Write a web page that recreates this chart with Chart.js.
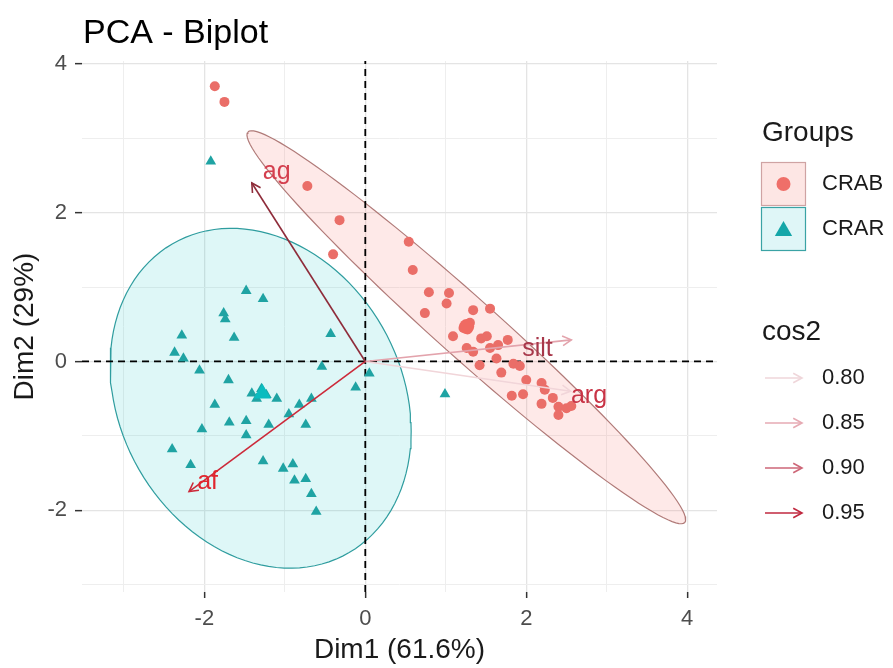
<!DOCTYPE html>
<html>
<head>
<meta charset="utf-8">
<title>PCA - Biplot</title>
<script src="https://cdn.jsdelivr.net/npm/chart.js@4.4.0/dist/chart.umd.min.js"></script>
<style>
	html, body { margin: 0; padding: 0; background: #fff; }
</style>
</head>
<body>
<canvas id="graficoBiplot" width="893" height="668"></canvas>
<script>
// individuos por grupo (Dim1, Dim2)
var crabX = [-1.87, -1.75, -0.72, -0.32, -0.40, 0.54, 0.59, 0.79, 0.74, 1.04, 1.01, 1.34, 1.55, 1.22, 1.30, 1.27,
	1.09, 1.44, 1.51, 1.77, 1.26, 1.34, 1.55, 1.65, 1.63, 1.42, 1.69, 1.84, 1.92, 2.00, 2.19, 2.23, 1.82, 1.96,
	2.33, 2.19, 2.40, 2.50, 2.40, 2.56];
var crabY = [3.70, 3.49, 2.36, 1.90, 1.44, 1.61, 1.23, 0.93, 0.65, 0.92, 0.78, 0.69, 0.71, 0.45, 0.52, 0.43,
	0.34, 0.31, 0.34, 0.29, 0.18, 0.13, 0.18, 0.22, 0.04, -0.05, -0.15, -0.03, -0.06, -0.25, -0.29, -0.38, -0.46, -0.44,
	-0.49, -0.57, -0.61, -0.63, -0.72, -0.60];
var crarX = [-1.92, -1.48, -1.27, -1.76, -1.74, -2.28, -1.63, -0.43, -2.37, -2.26, -2.06, -1.70, -0.54, 0.05,
	-0.12, 0.99, -1.41, -1.29, -1.23, -1.10, -1.35, -1.87, -0.67, -0.82, -0.95, -1.69, -1.48, -1.20, -0.74, -2.03,
	-1.48, -2.40, -1.27, -2.17, -1.02, -0.90, -0.88, -0.74, -0.67, -0.61];
var crarY = [2.69, 0.95, 0.84, 0.65, 0.57, 0.35, 0.32, 0.37, 0.12, 0.04, -0.12, -0.25, -0.07, -0.16,
	-0.35, -0.44, -0.43, -0.37, -0.45, -0.50, -0.50, -0.58, -0.50, -0.58, -0.71, -0.82, -0.80, -0.85, -0.85, -0.91,
	-0.99, -1.18, -1.34, -1.39, -1.44, -1.38, -1.60, -1.58, -1.78, -2.02];
var mediaCrab = [1.26, 0.47];
var mediaCrar = [-1.28, -0.43];

// elipses: centro e semi-eixos (conjugados) em unidades das dimensoes
var elipseCrabCentro = [1.255, 0.46];
var elipseCrabEixos = [[-2.714, 2.625], [0.248, 0.301]];
var elipseCrarCentro = [-1.30, -0.495];
var elipseCrarEixos = [[1.870, -0.446], [0, 2.241]];

// variaveis
var variaveis = ['ag', 'af', 'silt', 'arg'];
var varX = [-1.41, -2.19, 2.56, 2.55];
var varY = [2.40, -1.75, 0.29, -0.40];
var rotuloX = [-1.10, -1.96, 2.14, 2.78];
var rotuloY = [2.55, -1.62, 0.16, -0.46];

// legendas e eixos
var grupos = ['CRAB', 'CRAR'];
var niveisCos2 = ['0.80', '0.85', '0.90', '0.95'];
var marcasX = [-2, 0, 2, 4];
var marcasY = [-2, 0, 2, 4];
var gradeX = [-3, -2, -1, 0, 1, 2, 3, 4];
var gradeY = [-3, -2, -1, 0, 1, 2, 3, 4];

var xMin = -3.52, xMax = 4.37, yMin = -3.10, yMax = 4.04;

// estilos
var corVar = ['#8e2c3a', '#cc2a3a', '#e3a3ac', '#f1d5d9'];
var corRotulo = ['#d4404f', '#e0262e', '#a8374a', '#c83446'];
var corCos2 = ['#efd6da', '#e6aab3', '#cd6677', '#c0283f'];
var fonte = "'Liberation Sans', Arial, sans-serif";

Chart.defaults.font.family = fonte;

function pontos(xs, ys) {
	return xs.map(function(x, i) { return { x: x, y: ys[i] }; });
}

function pontosElipse(centro, eixos) {
	var lista = [];
	for (var k = 0; k <= 120; k++) {
		var t = 2 * Math.PI * k / 120;
		lista.push({
			x: centro[0] + eixos[0][0] * Math.cos(t) + eixos[1][0] * Math.sin(t),
			y: centro[1] + eixos[0][1] * Math.cos(t) + eixos[1][1] * Math.sin(t)
		});
	}
	return lista;
}

function seta(ctx, x0, y0, x1, y1, cor) {
	var ang = Math.atan2(y1 - y0, x1 - x0);
	var l = 10, a = 0.5;
	ctx.save();
	ctx.strokeStyle = cor;
	ctx.lineWidth = 1.6;
	ctx.beginPath();
	ctx.moveTo(x1 - l * Math.cos(ang - a), y1 - l * Math.sin(ang - a));
	ctx.lineTo(x1, y1);
	ctx.lineTo(x1 - l * Math.cos(ang + a), y1 - l * Math.sin(ang + a));
	ctx.stroke();
	ctx.restore();
}

var desenhoBiplot = {
	id: 'desenhoBiplot',
	afterDatasetsDraw: function(chart) {
		var ctx = chart.ctx, sx = chart.scales.x, sy = chart.scales.y;
		var ox = sx.getPixelForValue(0), oy = sy.getPixelForValue(0);
		variaveis.forEach(function(nome, i) {
			seta(ctx, ox, oy, sx.getPixelForValue(varX[i]), sy.getPixelForValue(varY[i]), corVar[i]);
			ctx.save();
			ctx.font = '25px ' + fonte;
			ctx.fillStyle = corRotulo[i];
			ctx.textAlign = 'center';
			ctx.textBaseline = 'middle';
			ctx.fillText(nome, sx.getPixelForValue(rotuloX[i]), sy.getPixelForValue(rotuloY[i]));
			ctx.restore();
		});
	},
	afterDraw: function(chart) {
		var ctx = chart.ctx;
		ctx.save();
		ctx.fillStyle = '#000';
		ctx.font = '34px ' + fonte;
		ctx.textBaseline = 'alphabetic';
		ctx.fillText('PCA - Biplot', 83, 43);

		// legenda dos grupos
		ctx.fillStyle = '#1a1a1a';
		ctx.font = '28px ' + fonte;
		ctx.textBaseline = 'middle';
		ctx.fillText('Groups', 762, 133);
		var fundos = ['#fde6e4', '#dff6f7'];
		var bordas = ['#cfa3a3', '#3aa3a5'];
		var cores = ['#ef6f69', '#14a6a8'];
		grupos.forEach(function(g, i) {
			var y = 162 + i * 45;
			ctx.fillStyle = fundos[i];
			ctx.fillRect(761, y, 44, 43);
			ctx.strokeStyle = bordas[i];
			ctx.lineWidth = 1.2;
			ctx.strokeRect(761.5, y + 0.5, 44, 43);
			ctx.fillStyle = cores[i];
			ctx.strokeStyle = cores[i];
			Chart.helpers.drawPoint(ctx, {
				pointStyle: i === 0 ? 'circle' : 'triangle',
				radius: i === 0 ? 7 : 10,
				borderWidth: 0
			}, 783.5, y + 22 + (i === 0 ? 0 : 2));
			ctx.fillStyle = '#1a1a1a';
			ctx.font = '22px ' + fonte;
			ctx.fillText(g, 822, y + 22);
		});

		// legenda cos2
		ctx.font = '28px ' + fonte;
		ctx.fillText('cos2', 762, 332);
		niveisCos2.forEach(function(n, i) {
			var y = 378 + i * 45;
			ctx.strokeStyle = corCos2[i];
			ctx.lineWidth = 1.6;
			ctx.beginPath();
			ctx.moveTo(765, y);
			ctx.lineTo(802, y);
			ctx.stroke();
			seta(ctx, 765, y, 802, y, corCos2[i]);
			ctx.fillStyle = '#1a1a1a';
			ctx.font = '22px ' + fonte;
			ctx.fillText(n, 822, y);
		});
		ctx.restore();
	}
};

function eixo(grade, marcas, horizontal, titulo) {
	return {
		type: 'linear',
		min: horizontal ? xMin : yMin,
		max: horizontal ? xMax : yMax,
		afterBuildTicks: function(s) {
			s.ticks = grade.map(function(v) { return { value: v }; });
		},
		afterFit: function(s) {
			if (horizontal) { s.height = 76; } else { s.width = 82; }
		},
		border: { display: false },
		grid: {
			color: function(c) { return c.tick && marcas.indexOf(c.tick.value) >= 0 ? '#e4e4e4' : '#eeeeee'; },
			lineWidth: function(c) { return c.tick && marcas.indexOf(c.tick.value) >= 0 ? 1.3 : 1; },
			tickColor: function(c) { return c.tick && marcas.indexOf(c.tick.value) >= 0 ? '#333333' : 'rgba(0,0,0,0)'; },
			tickLength: horizontal ? 6 : 7,
			tickWidth: 1.5
		},
		ticks: {
			autoSkip: false,
			maxRotation: 0,
			padding: 8,
			color: '#4d4d4d',
			font: { size: 22 },
			callback: function(v) { return marcas.indexOf(v) >= 0 ? String(v) : ''; }
		},
		title: {
			display: true,
			text: titulo,
			color: '#1a1a1a',
			font: { size: 28 },
			padding: horizontal ? { top: 0, bottom: 1 } : { top: 8, bottom: 0 }
		}
	};
}

var ctx = document.getElementById('graficoBiplot').getContext('2d');
var datasets = [
	{ type: 'line', data: pontosElipse(elipseCrabCentro, elipseCrabEixos), borderColor: '#b07a78', borderWidth: 1.2,
		backgroundColor: 'rgba(248,118,109,0.16)', fill: 'shape', pointRadius: 0, order: 10 },
	{ type: 'line', data: pontosElipse(elipseCrarCentro, elipseCrarEixos), borderColor: '#2f9d9f', borderWidth: 1.2,
		backgroundColor: 'rgba(0,191,196,0.13)', fill: 'shape', pointRadius: 0, order: 10 },
	{ type: 'line', data: [{ x: 0, y: yMin }, { x: 0, y: yMax }], borderColor: '#000', borderWidth: 1.8,
		borderDash: [7, 5], pointRadius: 0, fill: false, order: 9 },
	{ type: 'line', data: [{ x: xMin, y: 0 }, { x: xMax, y: 0 }], borderColor: '#000', borderWidth: 1.8,
		borderDash: [7, 5], pointRadius: 0, fill: false, order: 9 },
	{ data: pontos(crabX, crabY), pointStyle: 'circle', pointRadius: 5, backgroundColor: '#ea6e68',
		borderWidth: 0, order: 5 },
	{ data: pontos(crarX, crarY), pointStyle: 'triangle', pointRadius: 6.2, backgroundColor: '#1fa3a3',
		borderWidth: 0, order: 5 },
	{ data: [{ x: mediaCrab[0], y: mediaCrab[1] }], pointStyle: 'circle', pointRadius: 7.5, backgroundColor: '#f06a62',
		borderWidth: 0, order: 4 },
	{ data: [{ x: mediaCrar[0], y: mediaCrar[1] }], pointStyle: 'triangle', pointRadius: 10, backgroundColor: '#0bbcbf',
		borderWidth: 0, order: 4 }
];
variaveis.forEach(function(nome, i) {
	datasets.push({ type: 'line', label: nome, data: [{ x: 0, y: 0 }, { x: varX[i], y: varY[i] }],
		borderColor: corVar[i], borderWidth: 1.6, pointRadius: 0, fill: false, order: 1 });
});

var graficoBiplot = new Chart(ctx, {
	type: 'scatter',
	data: { datasets: datasets },
	options: {
		responsive: false,
		animation: false,
		events: [],
		layout: { padding: { left: 0, right: 176, top: 61, bottom: 0 } },
		plugins: { legend: { display: false }, tooltip: { enabled: false } },
		scales: {
			x: eixo(gradeX, marcasX, true, 'Dim1 (61.6%)'),
			y: eixo(gradeY, marcasY, false, 'Dim2 (29%)')
		}
	},
	plugins: [desenhoBiplot]
});
</script>
</body>
</html>
